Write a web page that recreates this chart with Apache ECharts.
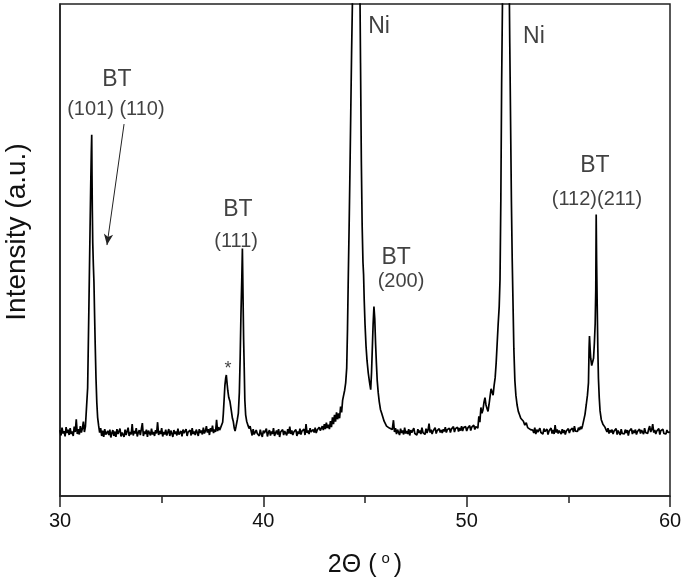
<!DOCTYPE html>
<html>
<head>
<meta charset="utf-8">
<title>XRD</title>
<script src="https://cdn.jsdelivr.net/npm/echarts@6/dist/echarts.min.js"></script>
<style>
  html, body { margin: 0; padding: 0; background: #fff; }
  #xrd { width: 685px; height: 582px; }
</style>
</head>
<body>
<div id="xrd"></div>
<script>
// scan.
// background stretches: [start 2theta, intensities every 0.05 deg]
var bgStep = 0.05;
var bgA = [30.00, [13.4,12.3,13.9,12.7,13.2,12.1,14.0,12.8,13.5,12.4,13.8,12.6,13.1,12.2,14.1,13.0,15.6,12.6,13.6,12.5,14.2,12.9,13.7,15.1,13.0,14.1]];
var bgB = [31.95, [12.9,13.8,12.2,13.3,12.0,13.6,12.5,12.1,13.2,12.4,
  13.5,11.9,12.8,13.4,12.2,13.1,12.0,13.6,12.6,12.3,
  13.7,12.1,12.9,13.3,12.0,13.5,12.4,12.7,13.9,12.2,
  13.0,12.5,14.6,12.3,13.2,12.7,13.8,12.1,12.9,13.4,
  12.4,13.6,14.8,12.2,13.1,12.6,13.5,12.0,13.3,12.8,
  12.3,13.7,12.5,13.0,12.2,13.4,12.7,15.0,12.4,13.2,
  12.6,13.8,12.1,13.0,12.5,13.5,12.3,12.9,13.6,12.2,
  13.3,12.7,12.0,13.4,12.6,13.1,12.3,13.7,12.5,12.9,
  13.2,12.1,13.5,12.8,12.4,13.6,12.2,13.0,12.7,13.4,
  12.3,13.8,12.6,13.1,12.4,13.5,12.9,12.2,13.6,12.8,
  13.3,12.5,13.9,12.7,13.2,14.2,12.9,13.6,12.4,13.8,
  13.1,14.3,12.8,13.5,13.0,15.5,13.2,14.0,13.4,13.9]];
var bgC = [39.40, [13.2,12.3,13.6,12.5,12.1,13.4,12.7,13.0,12.2,13.5,
  12.6,12.0,13.3,12.8,12.4,13.7,12.1,12.9,13.4,12.3,
  13.1,12.6,13.8,12.2,12.8,13.3,12.5,13.6,12.0,13.0,
  12.7,13.5,12.4,13.2,12.9,12.3,13.6,12.7,14.1,12.6,
  13.3,12.4,13.0,12.8,13.5,12.2,13.1,12.6,13.7,12.5,
  13.2,12.9,13.6,12.4,14.6,12.8,13.3,12.6,13.8,13.0,
  12.7,13.5,12.9,13.9,12.8,13.4,13.1,14.0,13.3,12.9,
  14.2,13.4,14.6,13.6,14.9,13.8]];
var bgD = [46.40, [15.4,13.0,13.8,12.6,13.5,12.9,12.4,13.7,12.8,13.3,
  12.5,13.9,12.7,13.2,12.6,13.6,12.3,13.4,12.9,12.5,
  13.8,12.7,13.1,12.4,13.6,12.8,13.3,12.6,13.9,12.9,
  13.0,12.5,13.7,12.8,13.4,14.7,12.9,13.5,12.6,13.2,
  12.8,13.9,12.7,13.3,13.0,13.7,12.9,13.4,12.8,13.6,
  13.1,14.0,12.9,13.5,13.2,13.8,12.9,13.6,13.3,14.1,
  13.0,13.7,13.4,14.0,13.1,13.8,13.3,14.2,13.2,13.9,
  13.5,14.1,13.2,13.8,13.6,14.3,13.3,14.0,13.7,14.4,
  13.5,14.1,13.9]];
var bgE = [53.25, [13.4,12.8,13.9,12.6,13.5,13.0,12.7,13.8,12.9,13.3,
  12.6,13.7,13.1,12.8,13.6,12.5,13.2,12.9,13.8,12.7,
  13.4,12.6,14.4,12.9,13.5,12.7,13.3,13.0,12.6,13.6,
  12.8,13.4,12.5,13.2,13.0,13.7,12.8,13.4,13.1,13.8,
  13.0,14.2,13.2,13.6,13.1,13.9,13.4,14.1,13.6,14.3]];
var bgF = [56.85, [13.6,13.0,13.8,12.7,13.4,12.9,13.5,12.6,13.2,12.8,
  13.7,12.5,13.3,12.9,12.4,13.6,12.7,13.1,12.6,13.5,
  12.8,13.4,12.3,13.2,12.9,13.7,12.6,13.3,12.8,13.5,
  12.5,13.1,12.9,13.6,12.7,13.4,13.0,12.6,13.8,12.9,
  13.3,12.7,13.6,14.2,13.0,13.5,14.6,12.9,13.4,12.6,
  13.2,12.8,13.7,12.5,13.3,12.9,13.6,12.7,13.1,12.6,
  13.4,12.9,13.2,13.0]];

// peaks: [2theta, intensity]
var peak101 = [[31.3,14.0],[31.36,22],[31.42,38],[31.47,52],[31.51,63],[31.54,70],[31.56,73.4],[31.575,65],[31.59,58],[31.61,51.5],[31.64,47],[31.67,43.4],[31.7,37],[31.73,31],[31.77,24],[31.81,19],[31.85,16],[31.9,14.3]];
var peak111 = [[37.95,13.9],[38.0,15.0],[38.03,16.6],[38.07,19.5],[38.11,22.5],[38.15,24.0],[38.18,24.6],[38.21,23.2],[38.25,21.5],[38.3,20.0],[38.36,19.2],[38.42,17.5],[38.48,15.8],[38.52,15.2],[38.57,13.8],[38.61,13.2],[38.66,14.2],[38.72,15.5],[38.77,16.8],[38.82,21],[38.86,28],[38.9,37],[38.94,44],[38.97,50.3],[39.0,41],[39.03,32],[39.06,26],[39.09,19.5],[39.13,16.5],[39.18,15.2],[39.25,14.3],[39.3,13.7],[39.35,14.2]];
var peakNi1 = [[43.2,14.5],[43.25,13.6],[43.3,15.2],[43.35,14.0],[43.4,16.0],[43.45,14.6],[43.5,16.5],[43.55,15.1],[43.6,17.0],[43.65,15.6],[43.7,16.8],[43.75,15.8],[43.8,18.2],[43.85,17.0],[43.9,19.5],[43.95,20.5],[44.0,21.5],[44.05,23.0],[44.1,26],[44.14,34],[44.18,45],[44.22,55],[44.26,66],[44.3,78],[44.34,90],[44.38,100],[44.45,150],[44.52,240],[44.56,300],[44.62,230],[44.68,150],[44.74,108],[44.78,88],[44.82,68],[44.86,55],[44.9,47.5],[44.93,45],[44.96,40],[45.0,35],[45.05,30.5],[45.1,27.5],[45.16,25],[45.22,23.2],[45.28,21.6],[45.32,25],[45.36,30],[45.4,35],[45.44,38.5],[45.48,36],[45.52,31],[45.56,27],[45.6,23.5],[45.65,21],[45.7,19.2],[45.76,17.6],[45.82,16.8],[45.88,16.0],[45.94,15.2],[46.0,15.0],[46.06,14.2],[46.12,14.6],[46.2,13.8],[46.28,14.1],[46.34,13.5]];
var peakNi2 = [[50.55,13.8],[50.6,16.2],[50.65,15.0],[50.7,18.0],[50.75,16.8],[50.8,17.5],[50.85,19.0],[50.9,20.0],[50.95,18.5],[51.0,17.8],[51.05,17.2],[51.1,18.6],[51.15,20.2],[51.2,21.8],[51.25,22.2],[51.3,20.5],[51.35,22.5],[51.4,24.0],[51.45,27],[51.5,31],[51.55,35],[51.6,38.5],[51.64,44],[51.68,60],[51.72,84],[51.76,100],[51.82,180],[51.88,300],[51.95,240],[52.02,150],[52.08,110],[52.12,92],[52.16,76],[52.2,60],[52.24,48],[52.28,39],[52.32,30],[52.37,23.5],[52.42,20.5],[52.48,18.5],[52.54,17.2],[52.6,16.5],[52.66,15.8],[52.72,16.0],[52.79,15.2],[52.86,14.4],[52.93,14.9],[53.0,13.9],[53.07,14.3],[53.14,13.5],[53.2,13.9]];
var peak211 = [[55.76,14.5],[55.82,16.6],[55.88,18.5],[55.94,20.5],[55.99,23],[56.02,30],[56.04,32.5],[56.07,30],[56.1,28],[56.15,26.5],[56.2,26.7],[56.24,28],[56.28,31],[56.32,35],[56.35,42],[56.37,57.2],[56.39,48],[56.42,38.8],[56.45,30],[56.48,24],[56.52,20],[56.56,17.3],[56.62,15.5],[56.7,14.6],[56.8,14.0]];

var xTicks = [30, 40, 50, 60];

// peak labels: text, [2theta, intensity], font size
var notes = [
  ['BT', [32.80, 84.6], 23],
  ['(101) (110)', [32.75, 78.5], 20],
  ['BT', [38.75, 58.3], 23],
  ['(111)', [38.66, 51.8], 20],
  ['*', [38.26, 25.8], 18],
  ['Ni', [45.69, 95.3], 23],
  ['BT', [46.53, 48.4], 23],
  ['(200)', [46.77, 43.5], 20],
  ['Ni', [53.31, 93.3], 23],
  ['BT', [56.31, 67.1], 23],
  ['(112)(211)', [56.41, 60.2], 20]
];
// arrow from the (110) label down to the shoulder
var arrow = [[33.15, 75.6], [32.31, 51.0]];

function expand(bg) {
  return bg[1].map(function (v, i) {
    return [+(bg[0] + i * bgStep).toFixed(2), v];
  });
}

var scan = [].concat(expand(bgA), peak101, expand(bgB), peak111, expand(bgC), peakNi1,
  expand(bgD), peakNi2, expand(bgE), peak211, expand(bgF));

var chart = echarts.init(document.getElementById('xrd'));
var font = 'Liberation Sans, Arial, sans-serif';

chart.setOption({
  animation: false,
  textStyle: { fontFamily: font },
  grid: {
    left: 60, right: 15, top: 4, bottom: 86,
    outerBoundsMode: 'none',
    show: true, borderColor: '#222', borderWidth: 1.5
  },
  xAxis: {
    type: 'value',
    min: xTicks[0],
    max: xTicks[xTicks.length - 1],
    interval: 10,
    name: '{n|2Θ (}{s|o}{n|)}',
    nameLocation: 'middle',
    nameGap: 55,
    nameTextStyle: {
      rich: {
        n: { fontSize: 25, color: '#111', fontFamily: font, lineHeight: 28 },
        s: { fontSize: 15, color: '#111', fontFamily: font, lineHeight: 28, verticalAlign: 'top', padding: [0, 4, 12, 5] }
      }
    },
    axisLine: { lineStyle: { color: '#222', width: 1.5 } },
    axisTick: { length: 11, lineStyle: { color: '#222', width: 1.5 } },
    minorTick: { show: true, splitNumber: 2, length: 7, lineStyle: { color: '#222', width: 1.5 } },
    splitLine: { show: false },
    axisLabel: { fontSize: 20, color: '#111', margin: 15 }
  },
  yAxis: {
    type: 'value',
    min: 0,
    max: 100,
    name: 'Intensity (a.u.)',
    nameLocation: 'middle',
    nameGap: 29,
    nameTextStyle: { fontSize: 28, color: '#111', padding: [0, 0, 0, 36] },
    axisLine: { show: true, lineStyle: { color: '#222', width: 1.5 } },
    axisTick: { show: false },
    axisLabel: { show: false },
    splitLine: { show: false }
  },
  series: [
    {
      type: 'line',
      data: scan,
      showSymbol: false,
      clip: true,
      lineStyle: { color: '#000', width: 1.7 },
      silent: true
    },
    {
      type: 'scatter',
      symbolSize: 0,
      silent: true,
      data: notes.map(function (n) {
        return {
          value: n[1],
          label: { show: true, position: 'inside', formatter: n[0], fontSize: n[2], color: '#111' }
        };
      }),
      markLine: {
        silent: true,
        symbol: ['none', 'arrow'],
        symbolSize: [7, 11],
        label: { show: false },
        lineStyle: { color: '#222', width: 1, type: 'solid' },
        data: [[{ coord: arrow[0] }, { coord: arrow[1] }]]
      }
    }
  ]
});
</script>
</body>
</html>
